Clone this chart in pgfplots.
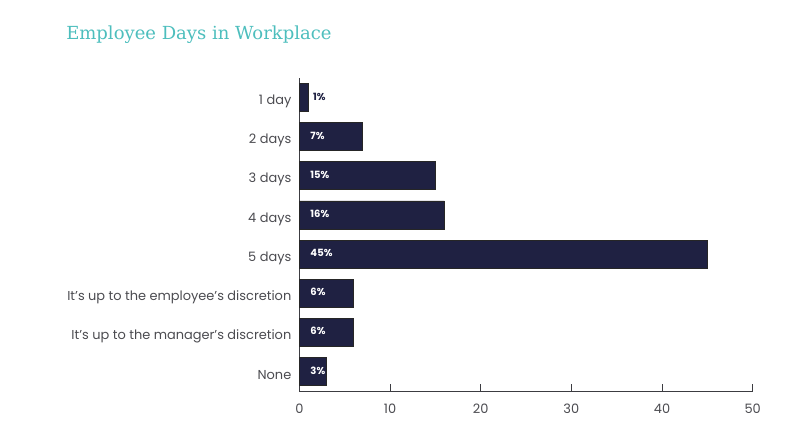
\documentclass[border=0pt]{standalone}
\usepackage{fontspec}
\setmainfont{Poppins}
\newfontfamily\titlefont{DejaVu Serif}
\usepackage{pgfplots}
\pgfplotsset{compat=1.18}
\usepackage{pgfplotstable}

\definecolor{barnavy}{RGB}{31,33,66}
\definecolor{titleteal}{RGB}{77,190,189}
\definecolor{ticktext}{RGB}{75,75,80}
\definecolor{axisgray}{RGB}{60,60,65}

% y = position from the bottom, v = percent
\pgfplotstableread{
y v
0 3
1 6
2 6
3 45
4 16
5 15
6 7
7 1
}\days

% white labels inside the bars
\pgfplotstableread{
y lx v
0 1.2 3
1 1.2 6
2 1.2 6
3 1.2 45
4 1.2 16
5 1.2 15
6 1.2 7
}\inlabels

\begin{document}
\begin{tikzpicture}
\path (0,0) rectangle (600pt,333.75pt);
\node[anchor=base west, inner sep=0pt, text=titleteal,
      font=\titlefont\fontsize{13.5}{16}\selectfont] at (49.5pt,303.75pt) {Employee Days in Workplace};
\begin{axis}[
    at={(224.5pt,40.5pt)}, anchor=south west,
    scale only axis,
    width=340pt, height=234.75pt,
    xmin=0, xmax=50,
    ymin=-0.5, ymax=7.5,
    axis x line=bottom, axis y line=left,
    axis line style={axisgray, line width=0.7pt, -},
    xtick={0,10,20,30,40,50},
    ytick={0,...,7},
    yticklabels={None,
                 It's up to the manager's discretion,
                 It's up to the employee's discretion,
                 5 days, 4 days, 3 days, 2 days, 1 day},
    tick align=inside,
    major tick length=5.5pt,
    y tick style={draw=none},
    x tick style={axisgray, line width=0.7pt},
    /pgf/number format/assume math mode=true,
    tick label style={text=ticktext, font=\fontsize{9.7}{11}\selectfont},
    xticklabel style={yshift=-6pt},
    yticklabel style={xshift=-2.5pt, yshift=-3pt},
    clip=false,
]
\addplot[xbar, bar width=21pt, fill=barnavy, draw=black!85, line width=0.5pt]
    table[x=v, y=y] {\days};
\addplot[only marks, mark=none, point meta=\thisrow{v},
    nodes near coords={\pgfmathprintnumber{\pgfplotspointmeta}\%},
    every node near coord/.append style={anchor=west, inner sep=0pt, yshift=0.8pt,
        text=white, font=\bfseries\fontsize{7.5}{8}\selectfont}]
    table[x=lx, y=y] {\inlabels};
\addplot[only marks, mark=none, point meta=explicit,
    nodes near coords={\pgfmathprintnumber{\pgfplotspointmeta}\%},
    every node near coord/.append style={anchor=west, inner sep=0pt, yshift=0.8pt,
        text=barnavy, font=\bfseries\fontsize{7.5}{8}\selectfont}]
    coordinates {(1.5,7) [1]};
\end{axis}
\end{tikzpicture}
\end{document}
